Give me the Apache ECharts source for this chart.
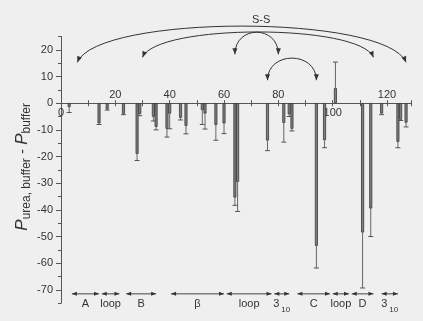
<!DOCTYPE html>
<html>
<head>
<meta charset="utf-8">
<script src="https://cdn.jsdelivr.net/npm/echarts@6/dist/echarts.min.js"></script>
<style>
html,body{margin:0;padding:0;background:#efefef;}
#chart{width:423px;height:321px;}
</style>
</head>
<body>
<div id="chart"></div>
<script>
// residue number, P(urea,buffer) - P(buffer), and error size
var residues = [3,14,17,23,28,29,34,35,39,40,44,46,52,53,57,60,64,65,76,82,84,85,94,97,101,111,114,118,124,125,127];
var deltaP = [-1.5,-7.6,-2.3,-4,-19,-4,-5.1,-8.9,-9.6,-3.9,-5.5,-8.5,-2.6,-3.9,-8.2,-7.6,-35.4,-29.5,-14,-7.4,-4.2,-9.6,-53.5,-13.9,5.7,-48.5,-39.5,-3.9,-14.5,-6.2,-7.3];
var deltaErr = [2,0.4,0.3,0.3,2.5,0.7,1.6,1.1,3.1,5.7,0.8,3,5.4,5.8,5.7,3.8,2.9,11.1,3.8,7.2,0.8,0.8,8.3,2.8,9.7,20.8,10.5,0.4,2.2,0.3,1.6];

// secondary structure spans
var ssNames = ['A','loop','B','β','loop','3','C','loop','D','3'];
var ssSubs = ['','','','','','10','','','','10'];
var ssFrom = [4,15,24,40.5,61,78.5,87,100,107,118];
var ssTo = [14,21.5,35,60,77.5,84,99,106,115,124];
var ssLevel = -71.5;

// disulfide bonds
var bondFrom = [6,30,64,76];
var bondTo = [127,115,80,94];

// x tick labels, above / below the axis
var labelsAbove = [20,40,60,80,120];
var labelsBelow = [0,100];

var font = 'Liberation Sans, Arial, sans-serif';
var chart = echarts.init(document.getElementById('chart'));

// plot box: y from -75 to 25
var plotTop = 36.5, plotH = 266.7, yMin = -75, yMax = 25;
var pxPerUnit = plotH / (yMax - yMin);
var zeroY = plotTop + yMax * pxPerUnit;

function arrowHead(tip, from, len, w) {
  var dx = tip[0] - from[0], dy = tip[1] - from[1];
  var d = Math.sqrt(dx * dx + dy * dy) || 1;
  dx /= d; dy /= d;
  var bx = tip[0] - dx * len, by = tip[1] - dy * len;
  return {
    type: 'polygon',
    shape: { points: [tip, [bx - dy * w, by + dx * w], [bx + dy * w, by - dx * w]] },
    style: { fill: '#333' }
  };
}

// arc geometry: end height, apex height (data units), inward offset of control points
var arcGeom = [[15.3, 28.9, 0.06], [17.2, 26.7, 0.06], [18.3, 26.6, 0], [8.6, 16.9, 0]];

function renderArc(params, api) {
  var g = arcGeom[params.dataIndex];
  var p0 = api.coord([api.value(0), g[0]]);
  var p3 = api.coord([api.value(1), g[0]]);
  var top = api.coord([0, g[1]])[1];
  var cy = (top - p0[1] / 4) / 0.75;
  var a = (p3[0] - p0[0]) * g[2];
  var c1 = [p0[0] + a, cy], c2 = [p3[0] - a, cy];
  return {
    type: 'group',
    children: [
      { type: 'bezierCurve',
        shape: { x1: p0[0], y1: p0[1], x2: p3[0], y2: p3[1], cpx1: c1[0], cpy1: c1[1], cpx2: c2[0], cpy2: c2[1] },
        style: { stroke: '#333', lineWidth: 1, fill: 'none' } },
      arrowHead(p0, c1, 6, 2.5),
      arrowHead(p3, c2, 6, 2.5)
    ]
  };
}

function renderSpan(params, api) {
  var i = params.dataIndex;
  var a = api.coord([api.value(0), api.value(2)]);
  var b = api.coord([api.value(1), api.value(2)]);
  var txt = ssSubs[i] ? '{n|' + ssNames[i] + '}{s|' + ssSubs[i] + '}' : '{n|' + ssNames[i] + '}';
  return {
    type: 'group',
    children: [
      { type: 'line', shape: { x1: a[0], y1: a[1], x2: b[0], y2: b[1] }, style: { stroke: '#444', lineWidth: 1 } },
      arrowHead(a, b, 5, 2),
      arrowHead(b, a, 5, 2),
      { type: 'text', x: (a[0] + b[0]) / 2, y: a[1] + 10,
        style: { text: txt, align: 'center', verticalAlign: 'middle', fill: '#333',
          rich: {
            n: { fontSize: 11, fontFamily: font, fill: '#333' },
            s: { fontSize: 8, fontFamily: font, fill: '#333', padding: [12, 0, 0, 2] }
          } } }
    ]
  };
}

function renderErr(params, api) {
  var x = api.value(0);
  var p1 = api.coord([x, api.value(1)]);
  var p2 = api.coord([x, api.value(2)]);
  return {
    type: 'group',
    children: [
      { type: 'line', shape: { x1: p1[0], y1: p1[1], x2: p2[0], y2: p2[1] }, style: { stroke: '#666', lineWidth: 1 } },
      { type: 'line', shape: { x1: p2[0] - 2.5, y1: p2[1], x2: p2[0] + 2.5, y2: p2[1] }, style: { stroke: '#555', lineWidth: 1 } }
    ]
  };
}

var axisColor = '#555';
var xBase = { type: 'value', min: 0, max: 129, interval: 10, splitLine: { show: false } };

var option = {
  backgroundColor: '#efefef',
  animation: false,
  title: {
    text: 'S-S', left: 247, top: 9,
    textStyle: { fontSize: 11, fontWeight: 'normal', color: '#333', fontFamily: font }
  },
  grid: [
    { left: 61, top: plotTop, width: 350.5, height: plotH },
    { left: 61, top: plotTop + 5 * pxPerUnit, width: 350.5, height: 90 * pxPerUnit },
    { left: 61, top: zeroY, width: 350.5, height: 100 },
    { left: 61, top: zeroY - 50, width: 350.5, height: 50 }
  ],
  xAxis: [
    Object.assign({ gridIndex: 0, show: false }, xBase),
    Object.assign({ gridIndex: 1, show: false }, xBase),
    Object.assign({ gridIndex: 2, position: 'top',
      axisLine: { onZero: false, lineStyle: { color: axisColor } },
      axisTick: { length: 3, lineStyle: { color: axisColor } },
      axisLabel: { margin: 3, fontSize: 11, color: '#333', fontFamily: font,
        formatter: function (v) { return labelsAbove.indexOf(v) >= 0 ? String(v) : ''; } } }, xBase),
    Object.assign({ gridIndex: 3, position: 'bottom',
      axisLine: { onZero: false, lineStyle: { color: axisColor } },
      axisTick: { length: 3, lineStyle: { color: axisColor } },
      axisLabel: { margin: 4, fontSize: 11, color: '#333', fontFamily: font, showMinLabel: true,
        formatter: function (v) { return labelsBelow.indexOf(v) >= 0 ? String(v) : ''; } } }, xBase)
  ],
  yAxis: [
    { type: 'value', gridIndex: 0, min: yMin, max: yMax, interval: 5,
      axisLine: { show: true, onZero: false, lineStyle: { color: axisColor } },
      axisTick: { show: true, length: 3, lineStyle: { color: axisColor } },
      axisLabel: { show: false },
      splitLine: { show: false } },
    { type: 'value', gridIndex: 1, min: -70, max: 20, interval: 10,
      axisLine: { show: false, onZero: false },
      axisTick: { show: true, length: 5, lineStyle: { color: axisColor } },
      axisLabel: { margin: 8, fontSize: 11, color: '#333', fontFamily: font },
      splitLine: { show: false },
      name: '{p|P}{s|urea, buffer}{m| - }{p|P}{s|buffer}',
      nameLocation: 'middle', nameGap: 28, nameMoveOverlap: false,
      nameTextStyle: {
        padding: [0, 0, 0, 6],
        rich: {
          p: { fontSize: 17, fontStyle: 'italic', color: '#333', fontFamily: font },
          m: { fontSize: 15, color: '#333', fontFamily: font },
          s: { fontSize: 12, color: '#333', fontFamily: font, padding: [9, 0, 0, 0] }
        }
      } },
    { type: 'value', gridIndex: 2, show: false },
    { type: 'value', gridIndex: 3, show: false }
  ],
  series: [
    { type: 'bar', xAxisIndex: 0, yAxisIndex: 0, barWidth: 3,
      itemStyle: { color: '#7f7f7f', borderColor: '#383838', borderWidth: 0.8 },
      data: residues.map(function (r, i) { return [r, deltaP[i]]; }) },
    { type: 'custom', xAxisIndex: 0, yAxisIndex: 0, clip: false, renderItem: renderErr,
      encode: { x: 0, y: [1, 2] },
      data: residues.map(function (r, i) {
        var s = deltaP[i] < 0 ? -1 : 1;
        return [r, deltaP[i], deltaP[i] + s * deltaErr[i]];
      }) },
    { type: 'custom', xAxisIndex: 0, yAxisIndex: 0, clip: false, renderItem: renderArc,
      encode: { x: [0, 1] },
      data: bondFrom.map(function (f, i) { return [f, bondTo[i]]; }) },
    { type: 'custom', xAxisIndex: 0, yAxisIndex: 0, clip: false, renderItem: renderSpan,
      encode: { x: [0, 1], y: 2 },
      data: ssFrom.map(function (f, i) { return [f, ssTo[i], ssLevel]; }) }
  ]
};
chart.setOption(option);
</script>
</body>
</html>
